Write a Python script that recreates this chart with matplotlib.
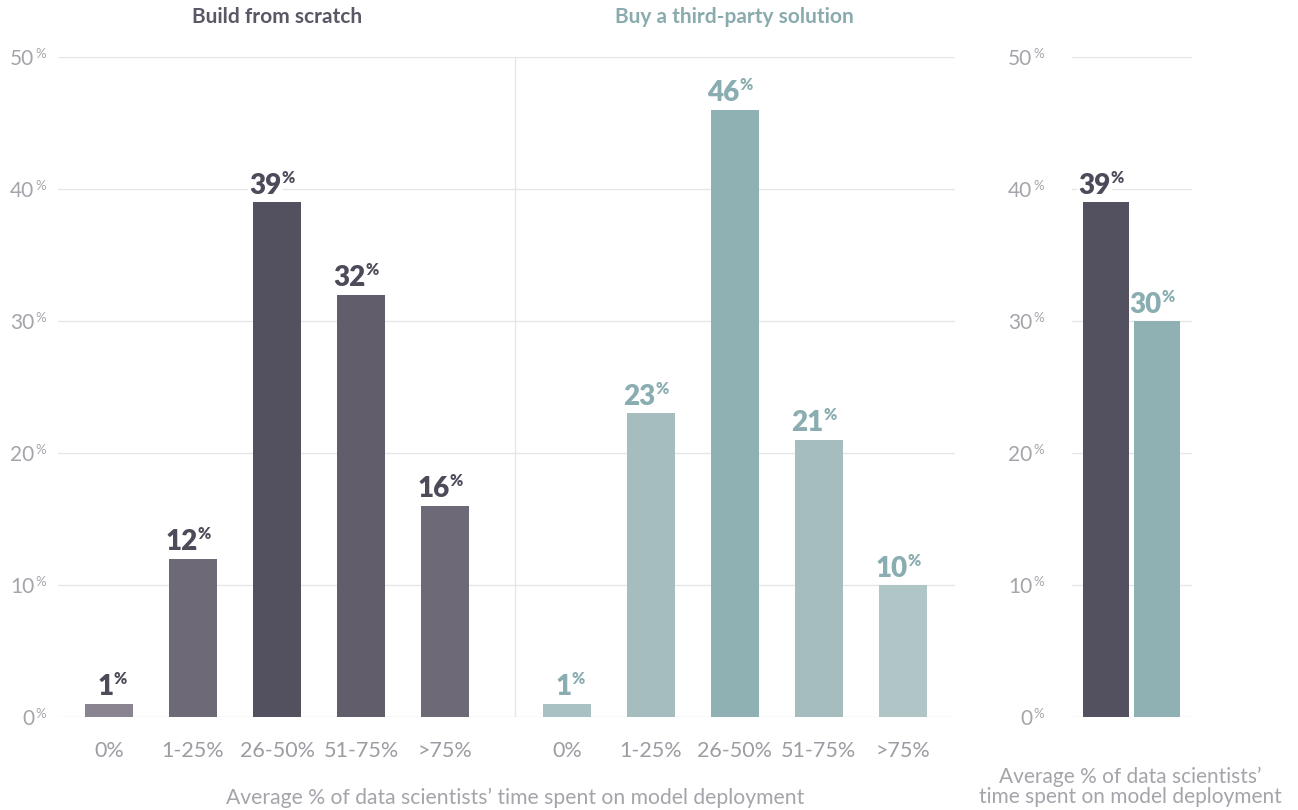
import matplotlib.pyplot as plt

# categories and values (percent of respondents)
categories = ['0%', '1-25%', '26-50%', '51-75%', '>75%']
build = [1, 12, 39, 32, 16]
buy = [1, 23, 46, 21, 10]
avg_labels = ['Build from scratch', 'Buy a third-party solution']
avg_values = [39, 30]
yticks = [0, 10, 20, 30, 40, 50]

build_colors = ['#8a8390', '#6e6977', '#53515f', '#615d6b', '#6e6977']
buy_colors = ['#a9c1c3', '#a6bdbf', '#8fb1b4', '#a5bdbf', '#afc5c6']
dark_txt = '#4d4b5a'
teal_txt = '#89adb0'
grid_c = '#e6e6e6'
tick_c = '#a6a3aa'

plt.rcParams['font.family'] = ['Lato', 'DejaVu Sans']

W, H = 1298, 810
fig = plt.figure(figsize=(W / 100, H / 100), dpi=100)


def px(x0, y0, x1, y1):
    return [x0 / W, 1 - y1 / H, (x1 - x0) / W, (y1 - y0) / H]


def pct_ticks(ax, off):
    for t in yticks:
        ax.annotate(str(t), xy=(0, t), xycoords=ax.get_yaxis_transform(),
                    xytext=(off, -1.5), textcoords='offset points',
                    ha='right', va='center', fontsize=15, color=tick_c)
        ax.annotate('%', xy=(0, t), xycoords=ax.get_yaxis_transform(),
                    xytext=(off + 0.8, 2.5), textcoords='offset points',
                    ha='left', va='center', fontsize=9.5, color=tick_c)


def value_label(ax, x, v, color):
    # label boxes sit under the bars but over the gridlines
    ax.annotate(str(v), xy=(x, v), xytext=(3.5, 6), textcoords='offset points',
                ha='right', va='baseline', fontsize=20, fontweight='heavy', color=color,
                bbox=dict(boxstyle='square,pad=0.05', fc='white', ec='none'), zorder=1.5)
    ax.annotate('%', xy=(x, v), xytext=(3.5, 14), textcoords='offset points',
                ha='left', va='baseline', fontsize=11.5, fontweight='heavy', color=color,
                bbox=dict(boxstyle='square,pad=0.05', fc='white', ec='none'), zorder=1.5)


def style(ax):
    for s in ax.spines.values():
        s.set_visible(False)
    ax.set_ylim(0, 50)
    ax.set_yticks(yticks)
    ax.set_yticklabels([])
    ax.tick_params(axis='y', length=0)
    ax.grid(axis='y', color=grid_c, linewidth=1)
    ax.set_axisbelow(True)


# main axes with two groups
ax = fig.add_axes(px(58, 57, 955, 717))
style(ax)
x1 = list(range(5))
x2 = [i + 5.45 for i in range(5)]
ax.bar(x1, build, width=0.571, color=build_colors, zorder=2)
ax.bar(x2, buy, width=0.571, color=buy_colors, zorder=2)
for x, v in zip(x1, build):
    value_label(ax, x, v, dark_txt)
for x, v in zip(x2, buy):
    value_label(ax, x, v, teal_txt)
ax.axvline(4.83, color=grid_c, linewidth=1, zorder=1)
ax.set_xlim(-0.607, 10.07)
ax.set_xticks(x1 + x2)
ax.set_xticklabels(categories + categories, fontsize=15.5, color='#9e9ba3')
ax.tick_params(axis='x', length=0, pad=17)
pct_ticks(ax, -17)

# averages panel
ax2 = fig.add_axes(px(1072, 57, 1192, 717))
style(ax2)
ax2.bar([0, 1], avg_values, width=0.92, color=['#53515f', '#8fb1b4'], zorder=2)
value_label(ax2, 0, avg_values[0], dark_txt)
value_label(ax2, 1, avg_values[1], teal_txt)
ax2.set_xlim(-0.667, 1.686)
ax2.set_xticks([])
pct_ticks(ax2, -28.5)

# titles and axis labels
fig.text(277 / W, 1 - 17 / H, avg_labels[0], ha='center', va='center',
         fontsize=15, fontweight='bold', color='#5a5866')
fig.text(734 / W, 1 - 17 / H, avg_labels[1], ha='center', va='center',
         fontsize=15, fontweight='bold', color='#8aabad')
fig.text(515 / W, 1 - 798 / H, 'Average % of data scientists\u2019 time spent on model deployment',
         ha='center', va='center', fontsize=15.2, color='#a6a3aa')
fig.text(1130 / W, 1 - 787 / H, 'Average % of data scientists\u2019\ntime spent on model deployment',
         ha='center', va='center', fontsize=15, color='#a6a3aa', linespacing=1.0)

fig.savefig('out.png', dpi=100)
